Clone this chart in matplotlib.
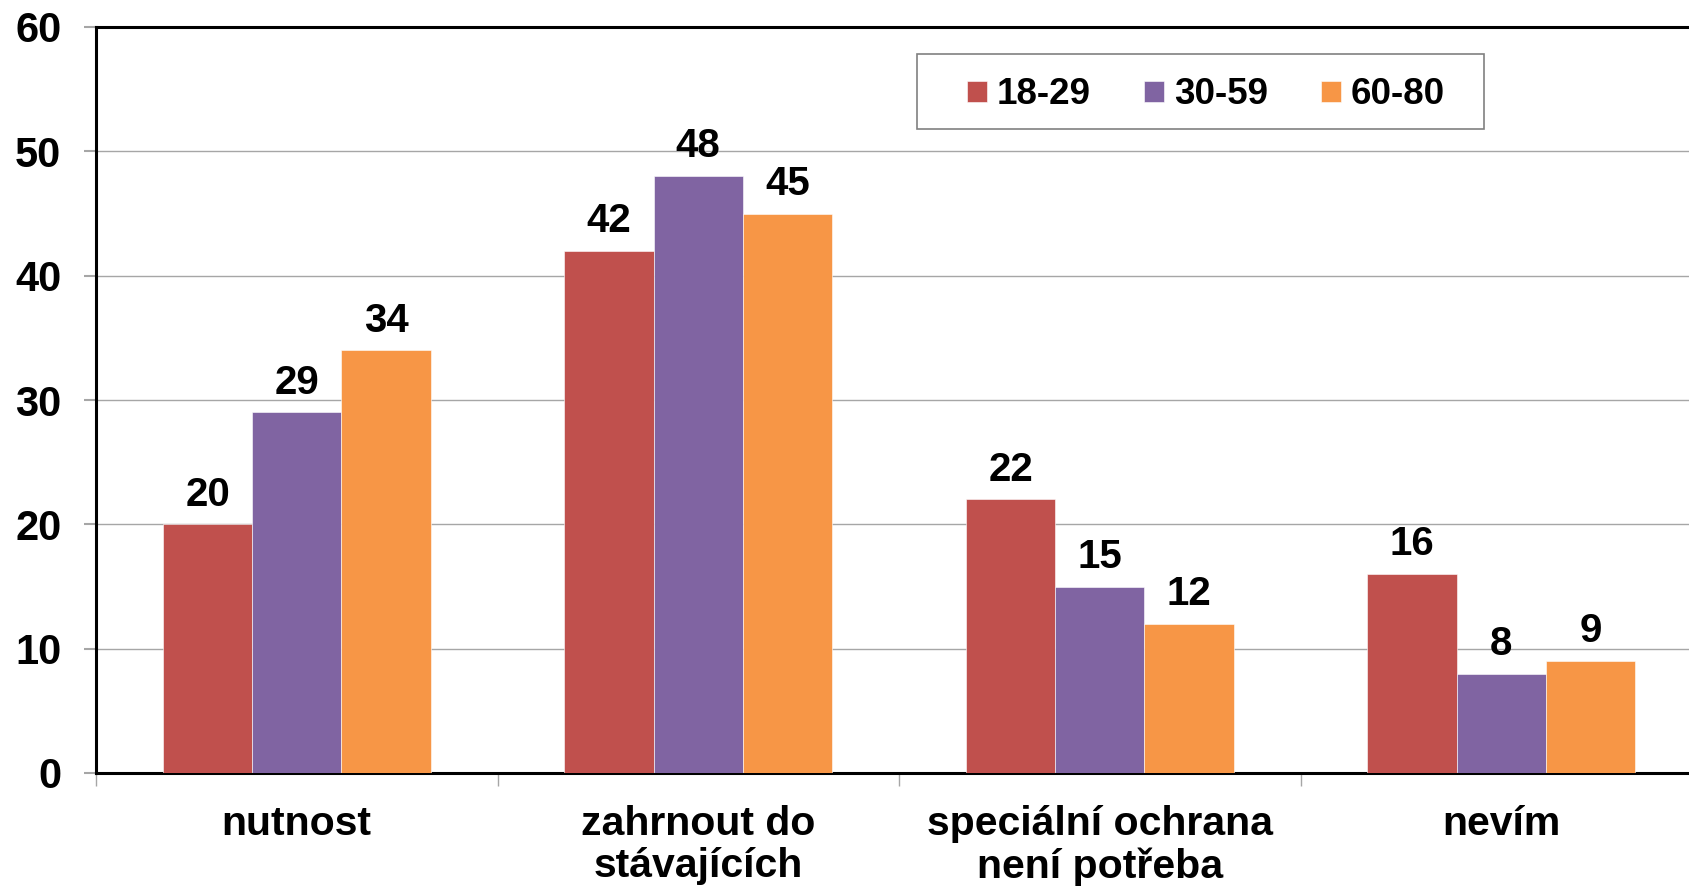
import numpy as np
import matplotlib.pyplot as plt
from matplotlib.patches import Rectangle

plt.rcParams['font.family'] = ['Liberation Sans', 'DejaVu Sans']
plt.rcParams['font.weight'] = 'bold'

# data
categories = ["nutnost", "zahrnout do\nstávajících", "speciální ochrana\nnení potřeba", "nevím"]
groups = ["18-29", "30-59", "60-80"]
vals_18_29 = [20, 42, 22, 16]
vals_30_59 = [29, 48, 15, 8]
vals_60_80 = [34, 45, 12, 9]
colors = ["#C0504D", "#8064A2", "#F79646"]

fig = plt.figure(figsize=(16.89, 8.92), dpi=100)
ax = fig.add_axes([96 / 1689, 1 - 773 / 892, (1702 - 96) / 1689, (773 - 27) / 892])

x = np.arange(len(categories))
w = 1 / 4.5
series = [vals_18_29, vals_30_59, vals_60_80]
for i, (vals, lab, col) in enumerate(zip(series, groups, colors)):
    bars = ax.bar(x + (i - 1) * w, vals, w, color=col, label=lab,
                  edgecolor="#ffffff", linewidth=0.4, zorder=3)
    for b, v in zip(bars, vals):
        ax.annotate(str(v), (b.get_x() + b.get_width() / 2, v),
                    xytext=(0, 13.5), textcoords="offset points",
                    ha="center", va="baseline", fontsize=29, fontweight="bold")

ax.set_xlim(-0.5, 3.5)
ax.set_ylim(0, 60)
ax.set_yticks(range(0, 61, 10))
ax.yaxis.grid(True, color="#a6a6a6", linewidth=1.0, zorder=0)
ax.set_axisbelow(True)

ax.set_xticks(x)
ax.set_xticklabels(categories, fontsize=29.5, fontweight="bold", linespacing=1.15)
ax.set_xticks(np.arange(-0.5, 4, 1), minor=True)
ax.tick_params(axis="x", which="major", length=0, pad=23)
ax.tick_params(axis="x", which="minor", length=9, width=1, color="#a6a6a6")
ax.tick_params(axis="y", length=9, width=1.5, color="#a6a6a6", pad=16, labelsize=30)
for t in ax.get_yticklabels():
    t.set_fontweight("bold")

for s in ["left", "bottom", "top"]:
    ax.spines[s].set_linewidth(2.2)
    ax.spines[s].set_color("black")
ax.spines["right"].set_visible(False)

# legend box
fig.patches.append(Rectangle((917 / 1689, 1 - 129 / 892), 567 / 1689, 75 / 892,
                             transform=fig.transFigure, facecolor="white",
                             edgecolor="#808080", linewidth=1.2, zorder=1))
fig.legend(loc="center", bbox_to_anchor=(1206 / 1689, 1 - 95 / 892), ncol=3,
           frameon=False, handlelength=0.53, handleheight=0.53,
           handletextpad=0.27, columnspacing=1.45, prop={"weight": "bold", "size": 26.5})

fig.savefig("out.png", dpi=100)
